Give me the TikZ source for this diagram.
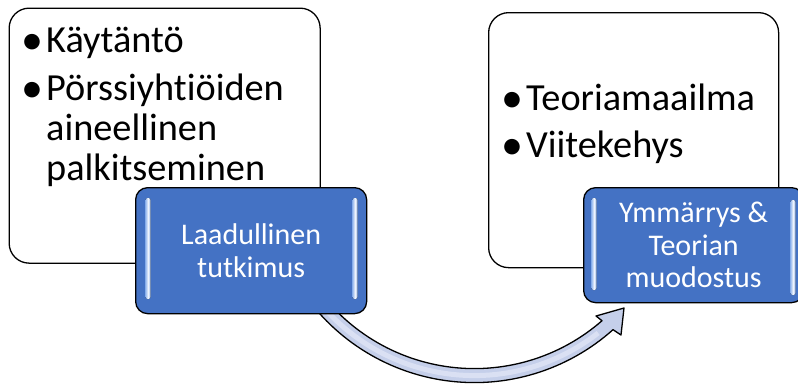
\documentclass[tikz,border=0pt]{standalone}
\usepackage{fontspec}
\setmainfont{Carlito}[Ligatures={NoCommon,NoRare,NoContextual}]
\definecolor{boxblue}{RGB}{68,114,196}
\definecolor{arrowfill}{RGB}{197,207,234}
\definecolor{arrowglow}{RGB}{218,224,243}
\definecolor{barlight}{RGB}{150,184,238}
\newcommand{\blt}{\makebox[28pt]{\raisebox{-2.5pt}{\fontsize{44}{40}\selectfont•}}}

\begin{document}
\begin{tikzpicture}[x=1pt,y=-1pt,
  panel/.style={draw=black, line width=1.3pt, fill=white, rounded corners=20pt,
    inner sep=0pt, anchor=north west},
  tag/.style={draw=black, line width=1.3pt, fill=boxblue, rounded corners=12pt,
    inner sep=0pt, anchor=north west},
  gloss/.style={left color=barlight, right color=barlight, middle color=white!85!barlight,
    draw=none, rounded corners=2pt},
  bullettext/.style={anchor=base west, inner sep=0pt, align=left,
    font=\fontsize{38.3}{40}\selectfont},
  tagtext/.style={text=white, align=center, inner sep=0pt,
    font=\fontsize{30}{32.5}\selectfont},
]
\clip (0,0) rectangle (798,383);

% white panels
\node[panel, minimum width=311pt, minimum height=255pt] (lpanel) at (8.5,7.5) {};
\node[panel, minimum width=290pt, minimum height=255pt] (rpanel) at (488,12) {};

% panel texts
\node[bullettext] (llist) at (18,52) {%
  \begin{tabular}[t]{@{}l@{}l@{}}
  \blt & Käytäntö\\[8pt]
  \blt & Pörssiyhtiöiden\\
   & aineellinen\\
   & palkitseminen
  \end{tabular}};
\node[bullettext] (rlist) at (498,110) {%
  \begin{tabular}[t]{@{}l@{}l@{}}
  \blt & Teoriamaailma\\[7pt]
  \blt & Viitekehys
  \end{tabular}};

% curved arrow between the two blue tags
\coordinate (hub) at (474.4,174.6);
\path[fill=arrowfill, draw=black, line width=1.3pt, line join=round]
  plot[domain=140:48.2, samples=60] ({474.4+208*cos(\x)},{174.6+208*sin(\x)})
  -- (621,335) -- (624,308) -- (596,316) -- (602,320.7)
  -- plot[domain=48.86:140, samples=60] ({474.4+194*cos(\x)},{174.6+194*sin(\x)})
  -- cycle;
\draw[arrowglow, line width=5pt]
  plot[domain=139:52, samples=50] ({474.4+201*cos(\x)},{174.6+201*sin(\x)});

% blue tags
\node[tag, minimum width=231pt, minimum height=126pt] (tagA) at (135,187) {};
\node[tag, minimum width=220pt, minimum height=115pt] (tagB) at (583,187) {};

% glossy edge highlights
\fill[gloss] (145.5,198) rectangle (150.5,299);
\fill[gloss] (352.5,198) rectangle (357.5,299);
\fill[gloss] (591.5,198) rectangle (596.5,290);
\fill[gloss] (790.5,200) rectangle (795.5,295);

% tag texts
\node[tagtext] (tagAtext) at (tagA.center) {Laadullinen\\tutkimus};
\node[tagtext] (tagBtext) at (tagB.center) {Ymmärrys \&\\Teorian\\muodostus};
\end{tikzpicture}
\end{document}
